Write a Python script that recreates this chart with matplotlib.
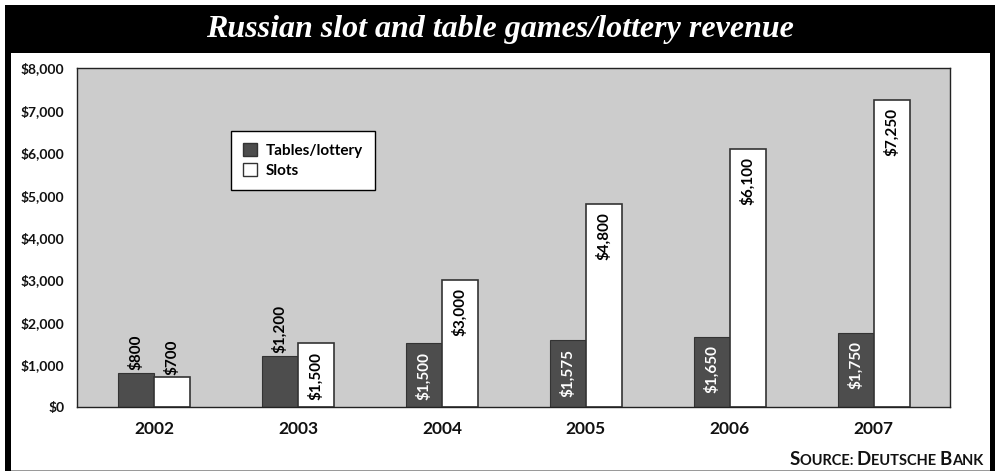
import numpy as np
import matplotlib
matplotlib.use("Agg")
import matplotlib.pyplot as plt
from matplotlib.patches import Rectangle, Patch
from matplotlib.ticker import FuncFormatter

years = ["2002", "2003", "2004", "2005", "2006", "2007"]
tables = [800, 1200, 1500, 1575, 1650, 1750]
slots = [700, 1500, 3000, 4800, 6100, 7250]

W, H = 1000, 472
fig = plt.figure(figsize=(W / 100, H / 100), dpi=100)
plt.rcParams["font.family"] = ["Lato", "DejaVu Sans"]


def box(x0, y0, x1, y1, **kw):
    # pixel box (top-left origin) -> figure fraction rectangle
    fig.add_artist(Rectangle((x0 / W, 1 - y1 / H), (x1 - x0) / W, (y1 - y0) / H,
                             transform=fig.transFigure, **kw))


# black frame with title band
box(5, 5, 995, 53, facecolor="black", edgecolor="none")
box(5, 53, 11, 471, facecolor="black", edgecolor="none")
box(990, 53, 995, 471, facecolor="black", edgecolor="none")
box(11, 469.5, 990, 471, facecolor="#9a9a9a", edgecolor="none")

fig.text(0.5, 1 - 30 / H, "Russian slot and table games/lottery revenue",
         ha="center", va="center", color="white", fontsize=23,
         family="Liberation Serif", style="italic", fontweight="bold")

ax = fig.add_axes([77 / W, 1 - 407 / H, 873 / W, 339 / H])
ax.set_facecolor("#cccccc")
for s in ax.spines.values():
    s.set_color("#222222")
    s.set_linewidth(1.0)

x = np.arange(len(years))
w = 0.25
dark = "#4d4d4d"
b1 = ax.bar(x - w / 2, tables, w, color=dark, edgecolor="#333333", linewidth=0.8, zorder=2)
b2 = ax.bar(x + w / 2, slots, w, color="white", edgecolor="#333333", linewidth=1.2, zorder=2)

ax.set_xlim(-0.535, len(years) - 1 + 0.53)
ax.set_ylim(0, 8000)
ax.set_yticks(np.arange(0, 8001, 1000))
ax.yaxis.set_major_formatter(FuncFormatter(lambda v, p: f"${v:,.0f}"))
ax.set_xticks(x)
ax.set_xticklabels(years)
ax.tick_params(axis="x", length=0, pad=10, labelsize=12.5)
ax.tick_params(axis="y", length=0, pad=9, labelsize=10)
for lab in ax.get_xticklabels() + ax.get_yticklabels():
    lab.set_fontweight("bold")
    lab.set_color("#111111")


def label_bars(bars, vals, fill_color):
    for b, v in zip(bars, vals):
        cx = b.get_x() + b.get_width() / 2
        txt = f"${v:,}"
        if v >= 1500:
            ax.annotate(txt, (cx, v), xytext=(0, -6), textcoords="offset points",
                        rotation=90, ha="center", va="top", fontsize=11,
                        fontweight="bold", color=fill_color, zorder=3)
        else:
            ax.annotate(txt, (cx, v), xytext=(0, 2), textcoords="offset points",
                        rotation=90, ha="center", va="bottom", fontsize=11,
                        fontweight="bold", color="black", zorder=3)


label_bars(b1, tables, "white")
label_bars(b2, slots, "black")

handles = [Patch(facecolor=dark, edgecolor="#333333"),
           Patch(facecolor="white", edgecolor="#333333")]
leg = ax.legend(handles, ["Tables/lottery", "Slots"], loc="upper left",
                bbox_to_anchor=(0.176, 0.814), borderaxespad=0, frameon=True,
                fancybox=False, edgecolor="black", framealpha=1,
                handlelength=0.9, handleheight=0.9, handletextpad=0.6,
                labelspacing=0.35, borderpad=0.8,
                prop={"weight": "bold", "size": 11})
leg.get_frame().set_linewidth(1.0)

# small-caps source line, built right to left
pieces = [("ANK", 10.5), ("B", 13.5), ("EUTSCHE ", 10.5), ("D", 13.5), ("OURCE: ", 10.5), ("S", 13.5)]
prev = fig.text(983 / W, 1 - 468 / H, pieces[0][0], ha="right", va="bottom",
                fontsize=pieces[0][1], fontweight="bold", color="#111111")
for t, fs in pieces[1:]:
    prev = ax.annotate(t, xy=(0, 0), xycoords=prev, ha="right", va="bottom",
                       fontsize=fs, fontweight="bold", color="#111111",
                       annotation_clip=False)

fig.savefig("out.png", dpi=100)
